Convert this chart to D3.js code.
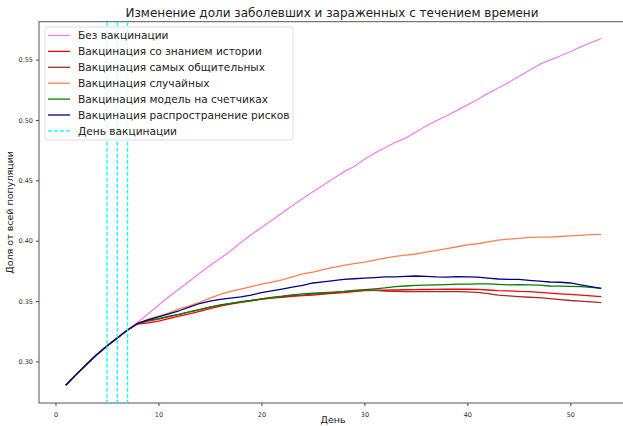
<!DOCTYPE html>
<html>
<head>
<meta charset="utf-8">
<script src="https://cdn.jsdelivr.net/npm/d3@7"></script>
<style>
  body { margin: 0; background: #fff; }
  svg { font-family: "DejaVu Sans", sans-serif; }
</style>
</head>
<body>
<div id="chart"></div>
<script>
// days 1..53
const days = d3.range(1, 54);
const start = [0.2803, 0.2891, 0.2975, 0.3055, 0.3128, 0.3195, 0.326];

const noVacc = start.concat([
  0.3325, 0.3395, 0.3465, 0.3535, 0.360, 0.3665, 0.373, 0.3795, 0.3855, 0.3915,
  0.3985, 0.405, 0.411, 0.417, 0.423, 0.429, 0.435, 0.4405, 0.446, 0.4515,
  0.457, 0.4615, 0.4675, 0.4725, 0.477, 0.4815, 0.485, 0.490, 0.495, 0.4995,
  0.5035, 0.508, 0.5125, 0.517, 0.522, 0.5265, 0.531, 0.536, 0.541, 0.546,
  0.5495, 0.553, 0.5565, 0.5605, 0.564, 0.5675]);
const byHistory = start.concat([
  0.331, 0.332, 0.3335, 0.3355, 0.3375, 0.3395, 0.3415, 0.3438, 0.3458, 0.3475,
  0.349, 0.3502, 0.3515, 0.3525, 0.3532, 0.354, 0.3545, 0.355, 0.3558, 0.3565,
  0.357, 0.3578, 0.3587, 0.359, 0.359, 0.3592, 0.3594, 0.3595, 0.3596, 0.3597,
  0.3598, 0.3598, 0.3598, 0.3597, 0.3592, 0.3587, 0.3584, 0.358, 0.3578, 0.3572,
  0.3566, 0.356, 0.3555, 0.355, 0.3543, 0.3537]);
const sociable = start.concat([
  0.3316, 0.3335, 0.335, 0.337, 0.339, 0.341, 0.343, 0.345, 0.3465, 0.348,
  0.3492, 0.3505, 0.3518, 0.3528, 0.3537, 0.3545, 0.355, 0.3557, 0.3563, 0.357,
  0.3578, 0.3585, 0.359, 0.3588, 0.3583, 0.358, 0.3578, 0.3578, 0.3578, 0.3578,
  0.3578, 0.3578, 0.3576, 0.3572, 0.3562, 0.355, 0.3543, 0.3537, 0.3532, 0.3528,
  0.352, 0.3512, 0.3505, 0.350, 0.3493, 0.3487]);
const randomPick = start.concat([
  0.3316, 0.335, 0.3375, 0.340, 0.3435, 0.346, 0.349, 0.3525, 0.3555, 0.358,
  0.360, 0.362, 0.364, 0.3658, 0.3675, 0.370, 0.3725, 0.374, 0.376, 0.378,
  0.3795, 0.381, 0.3822, 0.384, 0.3855, 0.387, 0.388, 0.389, 0.3905, 0.392,
  0.3935, 0.395, 0.3965, 0.3975, 0.399, 0.4005, 0.4013, 0.402, 0.4028, 0.403,
  0.403, 0.4035, 0.404, 0.4045, 0.405, 0.4053]);
const counters = start.concat([
  0.3316, 0.334, 0.3355, 0.3375, 0.339, 0.341, 0.343, 0.345, 0.3468, 0.348,
  0.3495, 0.3505, 0.3518, 0.353, 0.354, 0.3552, 0.356, 0.3565, 0.357, 0.3575,
  0.358, 0.3588, 0.3595, 0.3602, 0.361, 0.362, 0.3625, 0.363, 0.3632, 0.3635,
  0.3637, 0.364, 0.364, 0.3642, 0.3642, 0.3638, 0.3634, 0.3636, 0.3634, 0.3632,
  0.3625, 0.3624, 0.3622, 0.362, 0.3614, 0.3606]);
const risks = start.concat([
  0.3316, 0.3345, 0.337, 0.3395, 0.342, 0.345, 0.348, 0.350, 0.3515, 0.3525,
  0.3535, 0.355, 0.357, 0.3585, 0.360, 0.3615, 0.363, 0.365, 0.366, 0.367,
  0.368, 0.3685, 0.369, 0.3695, 0.370, 0.370, 0.3705, 0.3708, 0.3705, 0.370,
  0.3698, 0.3703, 0.370, 0.3698, 0.369, 0.3683, 0.368, 0.368, 0.3672, 0.3665,
  0.3658, 0.3656, 0.365, 0.3635, 0.362, 0.3606]);

const vaccDays = [5, 6, 7];
const xTicks = [0, 10, 20, 30, 40, 50];
const yTicks = [0.30, 0.35, 0.40, 0.45, 0.50, 0.55];

const series = [
  { name: "Без вакцинации", values: noVacc, color: "violet" },
  { name: "Вакцинация со знанием истории", values: byHistory, color: "red" },
  { name: "Вакцинация самых общительных", values: sociable, color: "brown" },
  { name: "Вакцинация случайных", values: randomPick, color: "coral" },
  { name: "Вакцинация модель на счетчиках", values: counters, color: "green" },
  { name: "Вакцинация распространение рисков", values: risks, color: "darkblue" }
];

const width = 623, height = 426;
const plotLeft = 39, plotRight = 628, plotTop = 21.7, plotBottom = 403;

const svg = d3.select("#chart").append("svg")
  .attr("width", width)
  .attr("height", height);

const x = d3.scaleLinear().domain([-1.6, 55.6]).range([plotLeft, plotRight]);
const y = d3.scaleLinear().domain([0.2656, 0.5814]).range([plotBottom, plotTop]);

// title
svg.append("text")
  .attr("x", 332)
  .attr("y", 17)
  .attr("text-anchor", "middle")
  .attr("font-size", 12)
  .attr("fill", "#222")
  .text("Изменение доли заболевших и зараженных с течением времени");

// axes
const xAxis = svg.append("g")
  .attr("transform", `translate(0,${plotBottom})`)
  .call(d3.axisBottom(x).tickValues(xTicks).tickSize(3).tickFormat(d3.format("d")));
const yAxis = svg.append("g")
  .attr("transform", `translate(${plotLeft},0)`)
  .call(d3.axisLeft(y).tickValues(yTicks).tickSize(3).tickFormat(d3.format(".2f")));
[xAxis, yAxis].forEach(g => {
  g.select(".domain").remove();
  g.selectAll("line").attr("stroke", "#444");
  g.selectAll("text").attr("fill", "#333").attr("font-size", 6.5)
    .attr("font-family", "DejaVu Sans, sans-serif");
});
xAxis.selectAll("text").attr("dy", "1.2em");

// spines
svg.append("rect")
  .attr("x", plotLeft)
  .attr("y", plotTop)
  .attr("width", plotRight - plotLeft)
  .attr("height", plotBottom - plotTop)
  .attr("fill", "none")
  .attr("stroke", "#555")
  .attr("stroke-width", 1);

// axis labels
svg.append("text")
  .attr("x", 333)
  .attr("y", 423)
  .attr("text-anchor", "middle")
  .attr("font-size", 9.5)
  .attr("fill", "#222")
  .text("День");
svg.append("text")
  .attr("transform", `translate(13,${(plotTop + plotBottom) / 2}) rotate(-90)`)
  .attr("text-anchor", "middle")
  .attr("font-size", 9.5)
  .attr("fill", "#222")
  .text("Доля от всей популяции");

// lines
const line = d3.line()
  .x((d, i) => x(days[i]))
  .y(d => y(d));
svg.selectAll(".series")
  .data(series)
  .enter()
  .append("path")
  .attr("class", "series")
  .attr("d", d => line(d.values))
  .attr("fill", "none")
  .attr("stroke", d => d.color)
  .attr("stroke-width", 1.3)
  .attr("stroke-linejoin", "round");

// vaccination days
svg.selectAll(".vline")
  .data(vaccDays)
  .enter()
  .append("line")
  .attr("class", "vline")
  .attr("x1", d => x(d))
  .attr("x2", d => x(d))
  .attr("y1", plotTop)
  .attr("y2", plotBottom)
  .attr("stroke", "cyan")
  .attr("stroke-width", 1.3)
  .attr("stroke-dasharray", "4,2");

// legend
const legendItems = series.map(s => ({ name: s.name, color: s.color, dash: null }))
  .concat([{ name: "День вакцинации", color: "cyan", dash: "4,2" }]);
const legend = svg.append("g").attr("transform", "translate(45,27)");
legend.append("rect")
  .attr("width", 248)
  .attr("height", 113)
  .attr("rx", 2.5)
  .attr("fill", "white")
  .attr("fill-opacity", 0.85)
  .attr("stroke", "#ddd");
const rows = legend.selectAll(".row")
  .data(legendItems)
  .enter()
  .append("g")
  .attr("class", "row")
  .attr("transform", (d, i) => `translate(0,${8.5 + i * 15.9})`);
rows.append("line")
  .attr("x1", 3)
  .attr("x2", 25)
  .attr("stroke", d => d.color)
  .attr("stroke-width", 1.3)
  .attr("stroke-dasharray", d => d.dash);
rows.append("text")
  .attr("x", 33)
  .attr("dy", "0.35em")
  .attr("font-size", 10.6)
  .attr("fill", "#222")
  .text(d => d.name);
</script>
</body>
</html>
